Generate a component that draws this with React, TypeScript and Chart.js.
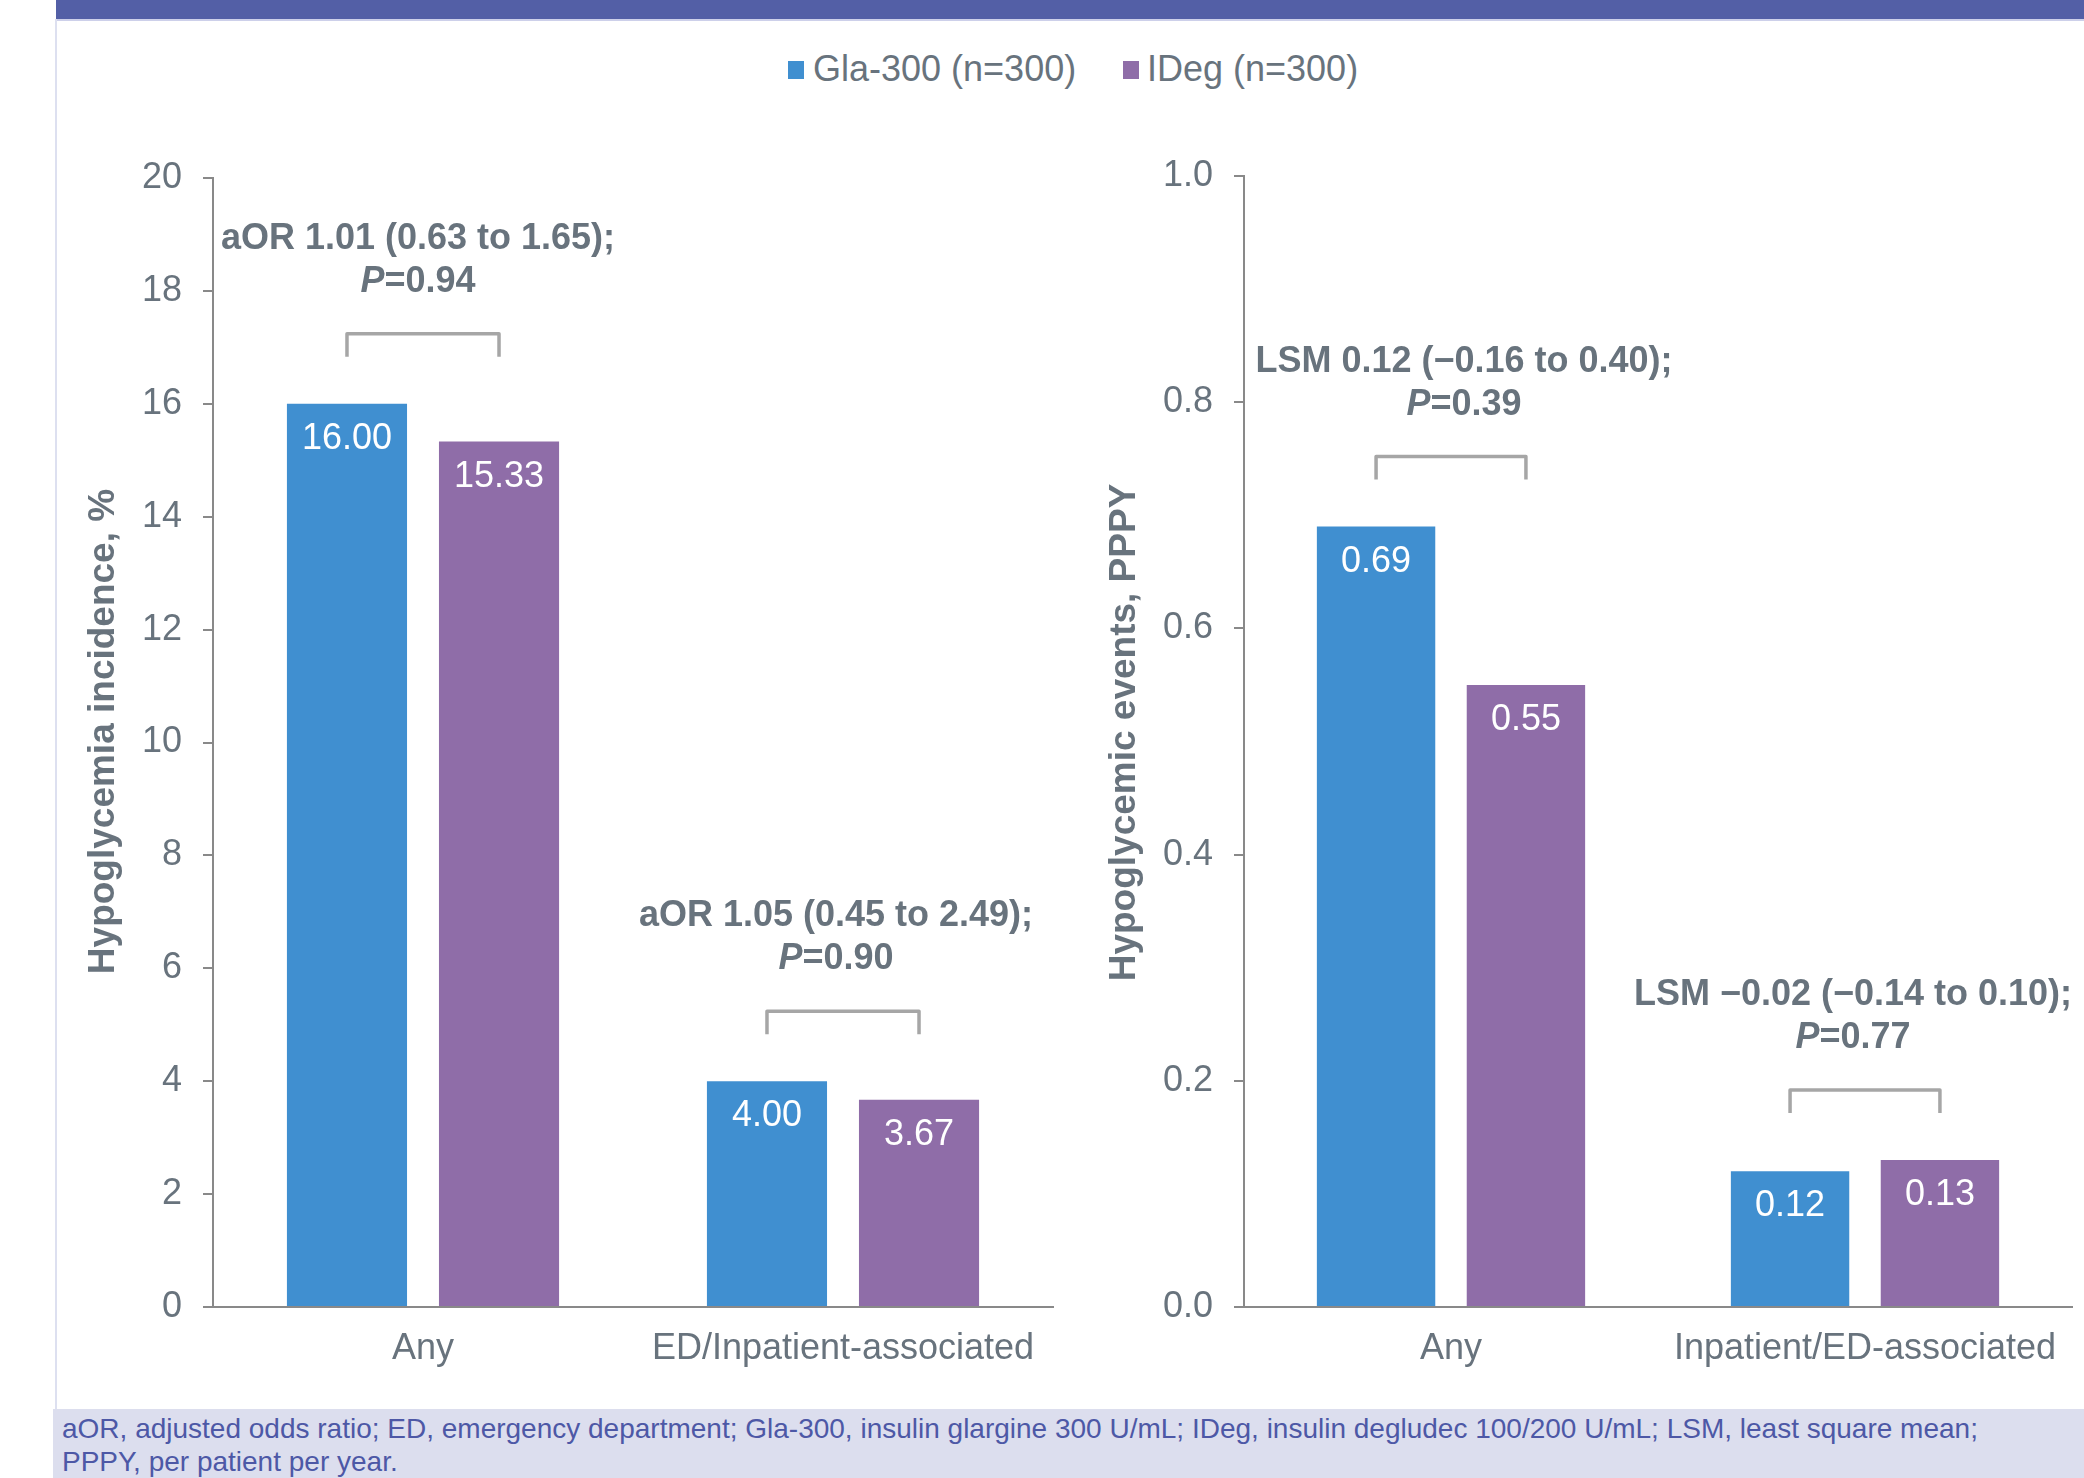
import React, { useEffect, useRef } from 'react';
import { Chart, registerables } from 'chart.js';

Chart.register(...registerables);

// ---- data ----
const seriesNames = ['Gla-300 (n=300)', 'IDeg (n=300)'];
const seriesColors = ['#408FD0', '#8F6DA8'];

const incidenceCategories = ['Any', 'ED/Inpatient-associated'];
const incidenceGla = [16.0, 4.0];
const incidenceIDeg = [15.33, 3.67];
const incidenceTicks = [0, 2, 4, 6, 8, 10, 12, 14, 16, 18, 20];
const incidenceStats = ['aOR 1.01 (0.63 to 1.65);', 'aOR 1.05 (0.45 to 2.49);'];
const incidenceP = ['0.94', '0.90'];

const eventCategories = ['Any', 'Inpatient/ED-associated'];
const eventGla = [0.69, 0.12];
const eventIDeg = [0.55, 0.13];
const eventTicks = [0, 0.2, 0.4, 0.6, 0.8, 1.0];
const eventStats = ['LSM 0.12 (\u22120.16 to 0.40);', 'LSM \u22120.02 (\u22120.14 to 0.10);'];
const eventP = ['0.39', '0.77'];

const footnoteLines = [
  'aOR, adjusted odds ratio; ED, emergency department; Gla-300, insulin glargine 300 U/mL; IDeg, insulin degludec 100/200 U/mL; LSM, least square mean;',
  'PPPY, per patient per year.',
];

// ---- style ----
const FONT = '"Liberation Sans", Arial, Helvetica, sans-serif';
const TEXT = '#68737D';
const AXIS = '#898989';
const BRACKET = '#A6A6A6';

// Value labels inside bars, the comparison bracket and statistics above each pair,
// and the rotated y-axis title
const pairNotes = {
  id: 'pairNotes',
  afterDatasetsDraw(chart: any, _args: any, opts: any) {
    const { ctx, chartArea } = chart;
    const boldFont = `bold 36px ${FONT}`;
    const italicFont = `italic bold 36px ${FONT}`;
    ctx.save();
    ctx.textAlign = 'center';
    ctx.textBaseline = 'middle';
    ctx.fillStyle = '#FFFFFF';
    ctx.font = `36px ${FONT}`;
    chart.data.datasets.forEach((ds: any, di: number) => {
      chart.getDatasetMeta(di).data.forEach((bar: any, i: number) => {
        ctx.fillText(Number(ds.data[i]).toFixed(2), bar.x, bar.y + 35);
      });
    });

    const a = chart.getDatasetMeta(0).data;
    const b = chart.getDatasetMeta(1).data;
    (opts.stats as string[]).forEach((stat, i) => {
      const x1 = a[i].x;
      const x2 = b[i].x;
      const top = Math.min(a[i].y, b[i].y);
      const barY = top - 70;
      const legY = top - 47;
      ctx.strokeStyle = BRACKET;
      ctx.lineWidth = 3.5;
      ctx.lineJoin = 'round';
      ctx.beginPath();
      ctx.moveTo(x1, legY);
      ctx.lineTo(x1, barY);
      ctx.lineTo(x2, barY);
      ctx.lineTo(x2, legY);
      ctx.stroke();

      const cx = (x1 + x2) / 2 + opts.textShift[i];
      ctx.fillStyle = TEXT;
      ctx.font = boldFont;
      ctx.textAlign = 'center';
      ctx.fillText(stat, cx, top - 165);

      const rest = '=' + opts.pValues[i];
      ctx.font = italicFont;
      const wP = ctx.measureText('P').width;
      ctx.font = boldFont;
      const wR = ctx.measureText(rest).width;
      const start = cx - (wP + wR) / 2;
      ctx.textAlign = 'left';
      ctx.font = italicFont;
      ctx.fillText('P', start, top - 122);
      ctx.font = boldFont;
      ctx.fillText(rest, start + wP, top - 122);
    });

    // y-axis title
    ctx.translate(opts.titleX, (chartArea.top + chartArea.bottom) / 2 - opts.titleRaise);
    ctx.rotate(-Math.PI / 2);
    ctx.textAlign = 'center';
    ctx.textBaseline = 'middle';
    ctx.fillStyle = TEXT;
    ctx.font = `bold 37px ${FONT}`;
    ctx.fillText(opts.yTitle, 0, 0);
    ctx.restore();
  },
};

type PanelProps = {
  left: number;
  top: number;
  width: number;
  height: number;
  categories: string[];
  gla: number[];
  ideg: number[];
  ticks: number[];
  decimals: number;
  yTitle: string;
  stats: string[];
  pValues: string[];
  textShift: number[];
  yWidth: number;
  xHeight: number;
  padTop: number;
  padRight: number;
  titleX: number;
  titleRaise: number;
};

function BarPanel(p: PanelProps) {
  const ref = useRef<HTMLCanvasElement | null>(null);
  useEffect(() => {
    if (!ref.current) return;
    const chart = new Chart(ref.current, {
      type: 'bar',
      data: {
        labels: p.categories,
        datasets: [
          { label: seriesNames[0], data: p.gla, backgroundColor: seriesColors[0] },
          { label: seriesNames[1], data: p.ideg, backgroundColor: seriesColors[1] },
        ],
      },
      options: {
        responsive: false,
        maintainAspectRatio: false,
        animation: false,
        devicePixelRatio: 1,
        datasets: { bar: { categoryPercentage: 0.724, barPercentage: 0.79 } },
        layout: { padding: { top: p.padTop, right: p.padRight, bottom: 0, left: 0 } },
        plugins: {
          legend: { display: false },
          tooltip: { enabled: false },
          pairNotes: {
            stats: p.stats,
            pValues: p.pValues,
            textShift: p.textShift,
            yTitle: p.yTitle,
            titleX: p.titleX,
            titleRaise: p.titleRaise,
          },
        } as any,
        scales: {
          x: {
            grid: { display: false, drawTicks: false },
            border: { display: true, color: AXIS, width: 2 },
            ticks: { color: TEXT, font: { family: FONT, size: 36 }, padding: 20, maxRotation: 0, autoSkip: false },
            afterFit: (scale: any) => {
              scale.height = p.xHeight;
            },
          },
          y: {
            min: p.ticks[0],
            max: p.ticks[p.ticks.length - 1],
            afterBuildTicks: (scale: any) => {
              scale.ticks = p.ticks.map((v) => ({ value: v }));
            },
            grid: { drawOnChartArea: false, drawTicks: true, tickLength: 10, color: AXIS, tickColor: AXIS, lineWidth: 2 },
            border: { display: true, color: AXIS, width: 2 },
            ticks: {
              color: TEXT,
              font: { family: FONT, size: 36 },
              padding: 21,
              callback: (v: any) => Number(v).toFixed(p.decimals),
            },
            afterFit: (scale: any) => {
              scale.width = p.yWidth;
            },
          },
        },
      },
      plugins: [pairNotes],
    } as any);
    return () => chart.destroy();
  }, []);
  return (
    <canvas
      ref={ref}
      width={p.width}
      height={p.height}
      style={{ position: 'absolute', left: p.left, top: p.top, width: p.width, height: p.height }}
    />
  );
}

export default function App() {
  useEffect(() => {
    document.body.style.margin = '0';
  }, []);
  const legendText: React.CSSProperties = {
    position: 'absolute',
    top: 48,
    fontFamily: FONT,
    fontSize: 36,
    lineHeight: '42px',
    color: TEXT,
    whiteSpace: 'nowrap',
  };
  return (
    <div
      style={{
        position: 'fixed',
        left: 0,
        top: 0,
        width: 2084,
        height: 1478,
        background: '#FFFFFF',
        overflow: 'hidden',
        fontFamily: FONT,
      }}
    >
      <div style={{ position: 'absolute', left: 56, top: 0, right: 0, height: 19, background: '#535FA6' }} />
      <div style={{ position: 'absolute', left: 56, top: 19, right: 0, height: 2, background: '#CDD0EA' }} />
      <div style={{ position: 'absolute', left: 55, top: 19, width: 2, height: 1392, background: '#DDE0F0' }} />

      <div style={{ position: 'absolute', left: 788, top: 61, width: 16, height: 18, background: seriesColors[0] }} />
      <div style={{ ...legendText, left: 813 }}>{seriesNames[0]}</div>
      <div style={{ position: 'absolute', left: 1123, top: 61, width: 16, height: 18, background: seriesColors[1] }} />
      <div style={{ ...legendText, left: 1147 }}>{seriesNames[1]}</div>

      <BarPanel
        left={56}
        top={123}
        width={1050}
        height={1286}
        categories={incidenceCategories}
        gla={incidenceGla}
        ideg={incidenceIDeg}
        ticks={incidenceTicks}
        decimals={0}
        yTitle="Hypoglycemia incidence, %"
        stats={incidenceStats}
        pValues={incidenceP}
        textShift={[-5, -7]}
        yWidth={157}
        xHeight={102}
        padTop={55}
        padRight={53}
        titleX={48}
        titleRaise={11}
      />
      <BarPanel
        left={1080}
        top={123}
        width={1004}
        height={1286}
        categories={eventCategories}
        gla={eventGla}
        ideg={eventIDeg}
        ticks={eventTicks}
        decimals={1}
        yTitle="Hypoglycemic events, PPPY"
        stats={eventStats}
        pValues={eventP}
        textShift={[13, -12]}
        yWidth={164}
        xHeight={102}
        padTop={53}
        padRight={12}
        titleX={45}
        titleRaise={9}
      />

      <div
        style={{
          position: 'absolute',
          left: 53,
          top: 1409,
          right: 0,
          bottom: 0,
          background: '#DCDEEE',
          color: '#4D58A6',
          fontSize: 28,
          lineHeight: '33px',
          padding: '3px 0 0 9px',
          whiteSpace: 'nowrap',
        }}
      >
        {footnoteLines[0]}
        <br />
        {footnoteLines[1]}
      </div>
    </div>
  );
}
